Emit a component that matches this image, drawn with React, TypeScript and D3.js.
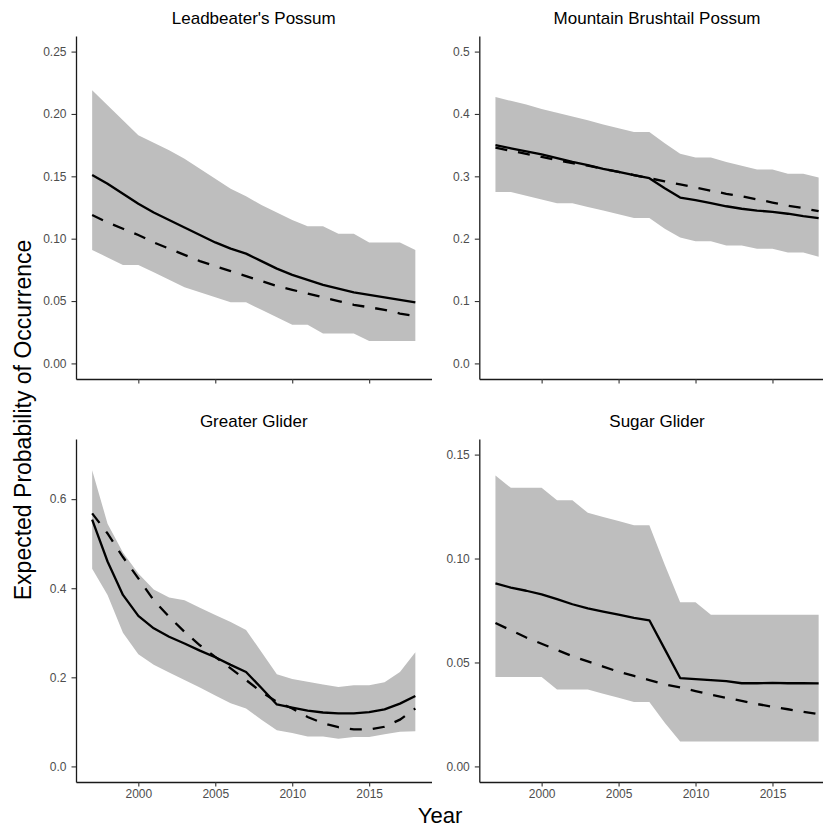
import React, { useEffect, useRef } from "react";
import * as d3 from "d3";

const FONT = "'Liberation Sans', Arial, Helvetica, sans-serif";

const years = [
  1997, 1998, 1999, 2000, 2001, 2002, 2003, 2004, 2005, 2006, 2007,
  2008, 2009, 2010, 2011, 2012, 2013, 2014, 2015, 2016, 2017, 2018,
];
const xTicks = [2000, 2005, 2010, 2015];

// Leadbeater's Possum
const lbpMean = [0.151, 0.144, 0.136, 0.128, 0.121, 0.115, 0.109, 0.103, 0.097, 0.092, 0.088, 0.082, 0.076, 0.071, 0.067, 0.063, 0.060, 0.057, 0.055, 0.053, 0.051, 0.049];
const lbpTrend = [0.119, 0.113, 0.108, 0.103, 0.097, 0.092, 0.087, 0.082, 0.078, 0.074, 0.070, 0.066, 0.062, 0.059, 0.056, 0.053, 0.050, 0.047, 0.045, 0.043, 0.040, 0.038];
const lbpLower = [0.091, 0.085, 0.079, 0.079, 0.073, 0.067, 0.061, 0.057, 0.053, 0.049, 0.049, 0.043, 0.037, 0.031, 0.031, 0.024, 0.024, 0.024, 0.018, 0.018, 0.018, 0.018];
const lbpUpper = [0.219, 0.207, 0.195, 0.183, 0.177, 0.171, 0.164, 0.156, 0.148, 0.140, 0.134, 0.127, 0.121, 0.115, 0.110, 0.110, 0.104, 0.104, 0.097, 0.097, 0.097, 0.091];

// Mountain Brushtail Possum
const mbpMean = [0.350, 0.345, 0.340, 0.335, 0.329, 0.323, 0.318, 0.312, 0.307, 0.302, 0.297, 0.281, 0.266, 0.262, 0.257, 0.252, 0.248, 0.245, 0.243, 0.240, 0.236, 0.233];
const mbpTrend = [0.346, 0.341, 0.336, 0.331, 0.326, 0.321, 0.317, 0.312, 0.307, 0.302, 0.297, 0.292, 0.287, 0.282, 0.277, 0.272, 0.268, 0.263, 0.258, 0.253, 0.249, 0.244];
const mbpLower = [0.275, 0.275, 0.269, 0.263, 0.257, 0.257, 0.251, 0.245, 0.239, 0.233, 0.233, 0.216, 0.202, 0.196, 0.196, 0.189, 0.189, 0.184, 0.184, 0.178, 0.178, 0.171];
const mbpUpper = [0.427, 0.421, 0.415, 0.408, 0.402, 0.396, 0.390, 0.383, 0.377, 0.371, 0.371, 0.353, 0.336, 0.330, 0.330, 0.323, 0.317, 0.311, 0.311, 0.304, 0.304, 0.298];

// Greater Glider
const ggMean = [0.554, 0.460, 0.385, 0.338, 0.310, 0.291, 0.276, 0.260, 0.245, 0.228, 0.212, 0.176, 0.139, 0.132, 0.125, 0.121, 0.119, 0.119, 0.122, 0.128, 0.141, 0.158];
const ggTrend = [0.568, 0.523, 0.470, 0.422, 0.373, 0.336, 0.302, 0.272, 0.246, 0.220, 0.194, 0.167, 0.145, 0.130, 0.111, 0.097, 0.088, 0.083, 0.083, 0.089, 0.105, 0.130];
const ggLower = [0.444, 0.385, 0.300, 0.252, 0.228, 0.211, 0.194, 0.177, 0.159, 0.142, 0.130, 0.105, 0.081, 0.075, 0.067, 0.067, 0.062, 0.066, 0.066, 0.072, 0.078, 0.079];
const ggUpper = [0.665, 0.545, 0.480, 0.433, 0.397, 0.379, 0.373, 0.356, 0.340, 0.324, 0.306, 0.257, 0.207, 0.196, 0.190, 0.184, 0.178, 0.182, 0.182, 0.189, 0.212, 0.256];

// Sugar Glider
const sgMean = [0.088, 0.086, 0.0845, 0.0828, 0.0805, 0.078, 0.076, 0.0745, 0.073, 0.0715, 0.0703, 0.0564, 0.0425, 0.042, 0.0415, 0.041, 0.040, 0.040, 0.0402, 0.040, 0.040, 0.0399];
const sgTrend = [0.069, 0.0655, 0.062, 0.059, 0.056, 0.053, 0.0505, 0.048, 0.0455, 0.0435, 0.0415, 0.0395, 0.038, 0.0362, 0.0345, 0.033, 0.0315, 0.030, 0.0287, 0.0275, 0.0263, 0.0251];
const sgLower = [0.043, 0.043, 0.043, 0.043, 0.037, 0.037, 0.037, 0.035, 0.033, 0.031, 0.031, 0.021, 0.012, 0.012, 0.012, 0.012, 0.012, 0.012, 0.012, 0.012, 0.012, 0.012];
const sgUpper = [0.140, 0.134, 0.134, 0.134, 0.128, 0.128, 0.122, 0.120, 0.118, 0.116, 0.116, 0.097, 0.079, 0.079, 0.073, 0.073, 0.073, 0.073, 0.073, 0.073, 0.073, 0.073];

const lbpTicks = [0, 0.05, 0.1, 0.15, 0.2, 0.25];
const mbpTicks = [0, 0.1, 0.2, 0.3, 0.4, 0.5];
const ggTicks = [0, 0.2, 0.4, 0.6];
const sgTicks = [0, 0.05, 0.1, 0.15];

function Axis(props) {
  const ref = useRef(null);
  useEffect(() => {
    const g = d3.select(ref.current);
    g.call(props.axis);
    g.attr("font-size", 12).attr("font-family", FONT);
    g.select(".domain").attr("stroke", "#1a1a1a").attr("stroke-width", 1.3);
    g.selectAll(".tick line").attr("stroke", "#333").attr("stroke-width", 1.1);
    g.selectAll(".tick text").attr("fill", "#4d4d4d");
  });
  return <g ref={ref} transform={props.transform} />;
}

function Panel(props) {
  const { title, mean, trend, lower, upper, left, top, width, height, yMax, yTicks, yFmt, xLabels } = props;
  const pad = 1.05; // 5% expansion like ggplot
  const x = d3.scaleLinear().domain([1997 - pad, 2018 + pad]).range([0, width]);
  const ey = yMax * 0.05;
  const y = d3.scaleLinear().domain([-ey, yMax + ey]).range([height, 0]);

  const ribbon = d3.area()
    .x((d, i) => x(years[i]))
    .y0((d, i) => y(lower[i]))
    .y1((d, i) => y(upper[i]));
  const ln = d3.line()
    .x((d, i) => x(years[i]))
    .y((d) => y(d));

  const xAxis = d3.axisBottom(x)
    .tickValues(xTicks)
    .tickSize(4.5)
    .tickSizeOuter(0)
    .tickPadding(3)
    .tickFormat(xLabels ? d3.format("d") : () => "");
  const yAxis = d3.axisLeft(y)
    .tickValues(yTicks)
    .tickSize(4.5)
    .tickSizeOuter(0)
    .tickPadding(5)
    .tickFormat(d3.format(yFmt));

  return (
    <g transform={`translate(${left},${top})`}>
      <text
        x={width / 2}
        y={-12}
        textAnchor="middle"
        style={{ fontSize: "17px", fontFamily: FONT, fill: "#000" }}
      >
        {title}
      </text>
      <path d={ribbon(years)} fill="#bebebe" stroke="none" />
      <path d={ln(trend)} fill="none" stroke="#000" strokeWidth={2.3} strokeDasharray="12 11" />
      <path d={ln(mean)} fill="none" stroke="#000" strokeWidth={2.3} strokeLinejoin="round" />
      <Axis axis={xAxis} transform={`translate(0,${height})`} />
      <Axis axis={yAxis} transform="translate(0,0)" />
    </g>
  );
}

export default function App() {
  const panelW = 355.5;
  const panelH = 343;
  return (
    <svg
      width={823}
      height={832}
      style={{ position: "absolute", left: 0, top: 0, background: "#fff" }}
    >
      <Panel title="Leadbeater's Possum" mean={lbpMean} trend={lbpTrend} lower={lbpLower} upper={lbpUpper}
        left={76} top={36} width={panelW} height={panelH} yMax={0.25} yTicks={lbpTicks} yFmt=".2f" xLabels={false} />
      <Panel title="Mountain Brushtail Possum" mean={mbpMean} trend={mbpTrend} lower={mbpLower} upper={mbpUpper}
        left={479.3} top={36} width={panelW} height={panelH} yMax={0.5} yTicks={mbpTicks} yFmt=".1f" xLabels={false} />
      <Panel title="Greater Glider" mean={ggMean} trend={ggTrend} lower={ggLower} upper={ggUpper}
        left={76} top={439} width={panelW} height={panelH} yMax={0.7} yTicks={ggTicks} yFmt=".1f" xLabels={true} />
      <Panel title="Sugar Glider" mean={sgMean} trend={sgTrend} lower={sgLower} upper={sgUpper}
        left={479.3} top={439} width={panelW} height={panelH} yMax={0.15} yTicks={sgTicks} yFmt=".2f" xLabels={true} />
      <text
        x={440}
        y={823}
        textAnchor="middle"
        style={{ fontSize: "22px", fontFamily: FONT, fill: "#000" }}
      >
        Year
      </text>
      <text
        x={-420}
        y={31}
        transform="rotate(-90)"
        textAnchor="middle"
        style={{ fontSize: "23px", fontFamily: FONT, fill: "#000" }}
      >
        Expected Probability of Occurrence
      </text>
    </svg>
  );
}
